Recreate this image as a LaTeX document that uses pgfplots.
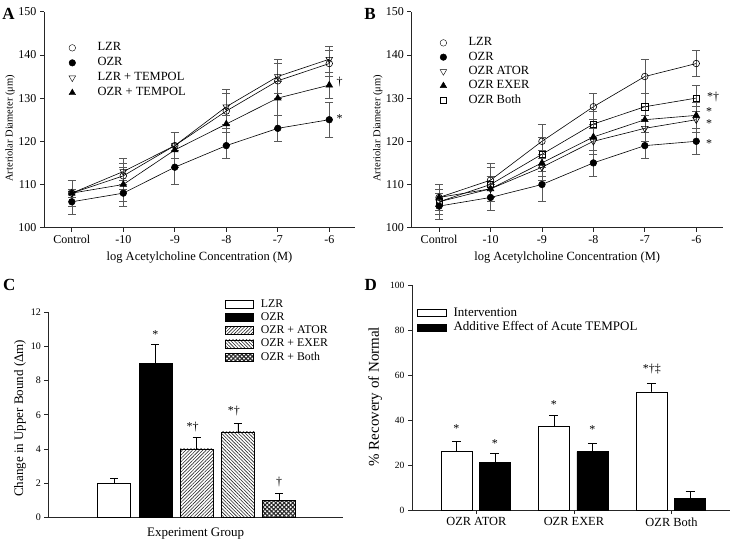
\documentclass[border=0pt]{standalone}
\usepackage{fontspec}
\setmainfont{Liberation Serif}
\usepackage{pgfplots}
\pgfplotsset{compat=1.18}
\usetikzlibrary{patterns.meta}
\newcommand{\fs}[1]{\fontsize{#1}{#1}\selectfont}
\pgfplotsset{
  base/.style={
    scale only axis, clip=false,
    axis x line*=bottom, axis y line*=left,
    tick align=outside, major tick length=4pt,
    /pgf/number format/assume math mode=true,
    axis line style={line width=0.7pt, black!85},
    every tick/.style={line width=0.7pt, black!85},
    legend cell align=left,
  },
  lineplot/.style={black, line width=0.6pt, mark size=3.3pt,
    /pgfplots/error bars/y dir=both, /pgfplots/error bars/y explicit,
    /pgfplots/error bars/error bar style={black!65, line width=0.6pt},
    /pgfplots/error bars/error mark options={rotate=90, black!65, mark size=4pt, line width=0.6pt}},
  cbar/.style={ybar, bar shift=0pt, bar width=0.8, draw=black, line width=0.6pt,
    legend image code/.code={\draw[##1] (0pt,-4pt) rectangle (28pt,4pt); \path (35pt,0pt);},
    /pgfplots/error bars/y dir=plus, /pgfplots/error bars/y explicit,
    /pgfplots/error bars/error bar style={black, line width=0.6pt},
    /pgfplots/error bars/error mark options={rotate=90, black, mark size=4pt, line width=0.6pt}},
  dbar/.style={ybar, bar width=31pt, draw=black, line width=0.6pt,
    legend image code/.code={\draw[##1] (0pt,-3.5pt) rectangle (29pt,3.5pt); \path (36pt,0pt);}},
  derr/.style={forget plot, only marks, mark=-, mark size=0pt, mark options={draw opacity=0}, black, line width=0.6pt,
    /pgfplots/error bars/y dir=plus, /pgfplots/error bars/y explicit,
    /pgfplots/error bars/error bar style={black, line width=0.6pt, draw opacity=1},
    /pgfplots/error bars/error mark options={rotate=90, black, mark size=4.5pt, line width=0.6pt, draw opacity=1}},
  mlegend/.style={
    legend image code/.code={\path (0pt,0pt) (33pt,0pt); \draw[mark repeat=2,mark phase=2,##1] plot coordinates {(0pt,0pt)(8pt,0pt)(16pt,0pt)};}},
}
\begin{document}
\begin{tikzpicture}
\useasboundingbox (0,0) rectangle (736pt,541pt);
\node[font=\bfseries\fs{17}] at (8.5pt,527.5pt) {A};
\node[font=\bfseries\fs{17}] at (370pt,527.5pt) {B};
\node[font=\bfseries\fs{17}] at (9.2pt,256pt) {C};
\node[font=\bfseries\fs{17}] at (370.8pt,256.5pt) {D};

% ---------------- Panel A ----------------
\begin{axis}[base, mlegend, at={(44pt,313.3pt)}, anchor=south west, width=311pt, height=216pt,
  xmin=-0.54, xmax=5.5, ymin=100, ymax=150,
  xtick={0,...,5}, xticklabels={Control,-10,-9,-8,-7,-6}, ytick={100,110,...,150},
  tick label style={font=\fs{12}},
  xlabel={log Acetylcholine Concentration (M)}, ylabel={Arteriolar Diameter (μm)},
  xlabel style={font=\fs{12.5}, at={(axis description cs:0.5,-0.14)}, anchor=center},
  ylabel style={font=\fs{10.5}, at={(axis description cs:-0.109,0.46)}, anchor=center},
  legend style={at={(axis description cs:0.064,0.866)}, anchor=north west, draw=none, fill=none,
    font=\fs{12.5}, inner sep=0pt, row sep=1pt, nodes={inner sep=0pt, text height=10pt, text depth=4pt}},
]
\addlegendimage{only marks, black, mark size=3.3pt, mark=o, mark options={fill=white}}
\addlegendentry{LZR}
\addlegendimage{only marks, black, mark size=3.3pt, mark=*}
\addlegendentry{OZR}
\addlegendimage{only marks, black, mark size=3.8pt, mark=triangle, mark options={rotate=180, fill=white}}
\addlegendentry{LZR + TEMPOL}
\addlegendimage{only marks, black, mark size=3.8pt, mark=triangle*}
\addlegendentry{OZR + TEMPOL}
\addplot[lineplot, forget plot, mark=*] coordinates {
 (0,106) +- (0,3) (1,108) +- (0,3) (2,114) +- (0,4) (3,119) +- (0,3) (4,123) +- (0,3) (5,125) +- (0,4)};
\addplot[lineplot, forget plot, mark=triangle*, mark size=3.8pt] coordinates {
 (0,108) +- (0,3) (1,110) +- (0,4) (2,118) +- (0,4) (3,124) +- (0,2) (4,130) +- (0,4) (5,133) +- (0,3)};
\addplot[lineplot, forget plot, mark=o, mark options={fill=white}] coordinates {
 (0,108) +- (0,1) (1,112) +- (0,3) (2,119) +- (0,3) (3,127) +- (0,4) (4,134) +- (0,4) (5,138) +- (0,3)};
\addplot[lineplot, forget plot, mark=triangle, mark size=3.8pt, mark options={rotate=180, fill=white}] coordinates {
 (0,108) +- (0,3) (1,113) +- (0,3) (2,119) +- (0,3) (3,128) +- (0,4) (4,135) +- (0,4) (5,139) +- (0,3)};
\node[font=\fs{12}] at (axis cs:5.2,133.8) {†};
\node[font=\fs{12}] at (axis cs:5.2,125.2) {*};
\end{axis}

% ---------------- Panel B ----------------
\begin{axis}[base, mlegend, at={(411.3pt,313.3pt)}, anchor=south west, width=311.7pt, height=216pt,
  xmin=-0.54, xmax=5.52, ymin=100, ymax=150,
  xtick={0,...,5}, xticklabels={Control,-10,-9,-8,-7,-6}, ytick={100,110,...,150},
  tick label style={font=\fs{12}},
  xlabel={log Acetylcholine Concentration (M)}, ylabel={Arteriolar Diameter (μm)},
  xlabel style={font=\fs{12.5}, at={(axis description cs:0.5,-0.14)}, anchor=center},
  ylabel style={font=\fs{10.5}, at={(axis description cs:-0.107,0.46)}, anchor=center},
  legend style={at={(axis description cs:0.076,0.889)}, anchor=north west, draw=none, fill=none,
    font=\fs{12.5}, inner sep=0pt, row sep=0.3pt, nodes={inner sep=0pt, text height=10pt, text depth=4pt}},
]
\addlegendimage{only marks, black, mark size=3.3pt, mark=o, mark options={fill=white}}
\addlegendentry{LZR}
\addlegendimage{only marks, black, mark size=3.3pt, mark=*}
\addlegendentry{OZR}
\addlegendimage{only marks, black, mark size=3.8pt, mark=triangle, mark options={rotate=180, fill=white}}
\addlegendentry{OZR ATOR}
\addlegendimage{only marks, black, mark size=3.8pt, mark=triangle*}
\addlegendentry{OZR EXER}
\addlegendimage{only marks, black, mark size=3.1pt, mark=square, mark options={fill=white}}
\addlegendentry{OZR Both}
\addplot[lineplot, forget plot, mark=*] coordinates {
 (0,105) +- (0,3) (1,107) +- (0,3) (2,110) +- (0,4) (3,115) +- (0,3) (4,119) +- (0,3) (5,120) +- (0,3)};
\addplot[lineplot, forget plot, mark=triangle, mark size=3.8pt, mark options={rotate=180, fill=white}] coordinates {
 (0,106) +- (0,3) (1,109) +- (0,3) (2,114) +- (0,3) (3,120) +- (0,3) (4,123) +- (0,3) (5,125) +- (0,3)};
\addplot[lineplot, forget plot, mark=triangle*, mark size=3.8pt] coordinates {
 (0,107) +- (0,2) (1,109) +- (0,3) (2,115) +- (0,3) (3,121) +- (0,3) (4,125) +- (0,3) (5,126) +- (0,3)};
\addplot[lineplot, forget plot, mark=square, mark size=3.1pt, mark options={fill=white}] coordinates {
 (0,106) +- (0,3) (1,110) +- (0,4) (2,117) +- (0,4) (3,124) +- (0,3) (4,128) +- (0,3) (5,130) +- (0,3)};
\addplot[lineplot, forget plot, mark=o, mark options={fill=white}] coordinates {
 (0,107) +- (0,3) (1,111) +- (0,4) (2,120) +- (0,4) (3,128) +- (0,3) (4,135) +- (0,4) (5,138) +- (0,3)};
\node[font=\fs{12}] at (axis cs:5.33,130.3) {*†};
\node[font=\fs{12}] at (axis cs:5.25,126.8) {*};
\node[font=\fs{12}] at (axis cs:5.25,124.1) {*};
\node[font=\fs{12}] at (axis cs:5.25,119.5) {*};
\end{axis}

% ---------------- Panel C ----------------
\begin{axis}[base, at={(48.3pt,23.7pt)}, anchor=south west, width=294.7pt, height=205pt,
  xmin=-1.6, xmax=5.55, ymin=0, ymax=12, ytick={0,2,...,12}, xtick=\empty,
  yticklabel style={font=\fs{10}},
  xlabel={Experiment Group}, ylabel={Change in Upper Bound (Δm)},
  xlabel style={font=\fs{13}, at={(axis description cs:0.5,-0.077)}, anchor=center},
  ylabel style={font=\fs{13}, at={(axis description cs:-0.096,0.483)}, anchor=center},
  legend style={at={(axis description cs:0.6,1.073)}, anchor=north west, draw=none, fill=none,
    font=\fs{11.8}, inner sep=0pt, row sep=0.5pt, nodes={inner sep=0pt, text height=9.5pt, text depth=3.3pt}},
]
\addplot[cbar, fill=white] coordinates {(0,2) +- (0,0.3)};
\addlegendentry{LZR}
\addplot[cbar, fill=black] coordinates {(1,9) +- (0,1.1)};
\addlegendentry{OZR}
\addplot[cbar, pattern={Lines[angle=45,distance=2.4pt,line width=0.6pt]}, pattern color=black!85] coordinates {(2,4) +- (0,0.7)};
\addlegendentry{OZR + ATOR}
\addplot[cbar, pattern={Lines[angle=-45,distance=2.4pt,line width=0.6pt]}, pattern color=black!85] coordinates {(3,5) +- (0,0.5)};
\addlegendentry{OZR + EXER}
\addplot[cbar, pattern={Hatch[angle=45,distance=3pt,line width=1.1pt]}, pattern color=black!85] coordinates {(4,1) +- (0,0.4)};
\addlegendentry{OZR + Both}
\node[font=\fs{12}] at (axis cs:1,10.7) {*};
\node[font=\fs{12}] at (axis cs:1.9,5.3) {*†};
\node[font=\fs{12}] at (axis cs:2.9,6.2) {*†};
\node[font=\fs{12}] at (axis cs:4,2.05) {†};
\end{axis}

% ---------------- Panel D ----------------
\begin{axis}[base, at={(412pt,31pt)}, anchor=south west, width=318pt, height=225pt,
  xmin=-0.66, xmax=2.6, ymin=0, ymax=100, ytick={0,20,...,100},
  xtick={0,1,2}, xticklabels={OZR ATOR,OZR EXER,OZR Both},
  yticklabel style={font=\fs{9.5}}, xticklabel style={font=\fs{12.4}},
  ylabel={\% Recovery of Normal},
  ylabel style={font=\fs{15}, at={(axis description cs:-0.116,0.504)}, anchor=center},
  legend style={at={(axis description cs:0.015,0.909)}, anchor=north west, draw=none, fill=none,
    font=\fs{13}, inner sep=0pt, row sep=0.8pt, nodes={inner sep=0pt, text height=10.5pt, text depth=3.5pt}},
]
\addplot[derr] coordinates {(-0.205,26) +- (0,4.5) (0.795,37) +- (0,5) (1.795,52.5) +- (0,4)};
\addplot[derr] coordinates {(0.19,21) +- (0,4) (1.19,26) +- (0,3.5) (2.19,5) +- (0,3.5)};
\addplot[dbar, fill=white, bar shift=-20pt] coordinates {(0,26) (1,37) (2,52.5)};
\addlegendentry{Intervention}
\addplot[dbar, fill=black, bar shift=18.5pt] coordinates {(0,21) (1,26) (2,5)};
\addlegendentry{Additive Effect of Acute TEMPOL}
\node[font=\fs{12}] at (axis cs:-0.205,36.3) {*};
\node[font=\fs{12}] at (axis cs:0.19,29.4) {*};
\node[font=\fs{12}] at (axis cs:0.795,47) {*};
\node[font=\fs{12}] at (axis cs:1.19,35.9) {*};
\node[font=\fs{12}] at (axis cs:1.8,62.5) {*†‡};
\end{axis}
\end{tikzpicture}
\end{document}
